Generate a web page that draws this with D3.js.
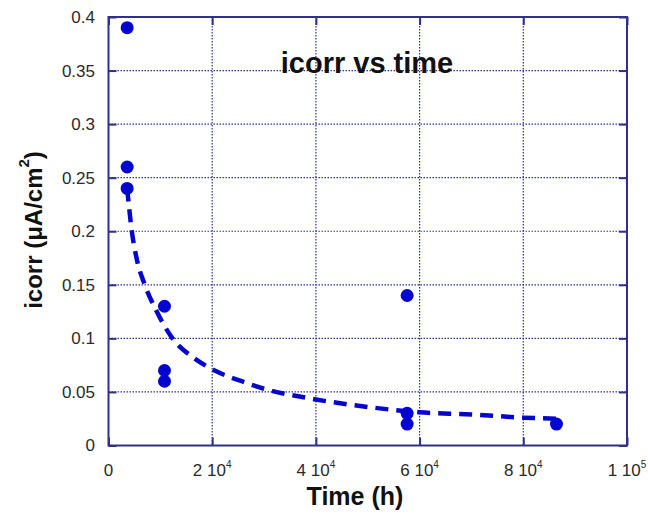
<!DOCTYPE html>
<html>
<head>
<meta charset="utf-8">
<script src="https://cdn.jsdelivr.net/npm/d3@7"></script>
<style>
  body { margin: 0; background: #fff; }
  svg { display: block; font-family: Arial, "Liberation Sans", sans-serif; }
</style>
</head>
<body>
<script>
'use strict';

// measured points
const timeX = [3600, 3600, 3600, 10800, 10800, 10800, 57600, 57600, 57600, 86400];
const icorr = [0.39, 0.26, 0.24, 0.13, 0.07, 0.06, 0.14, 0.03, 0.02, 0.02];

// fitted curve
const fitX = [3600, 4500, 5500, 7000, 9000, 12500, 16400, 20900, 25700, 30000, 40000, 50000, 60000, 70000, 80000, 86400];
const fitY = [0.24, 0.20, 0.173, 0.15, 0.128, 0.099, 0.082, 0.069, 0.06, 0.053, 0.043, 0.036, 0.031, 0.029, 0.026, 0.025];

// ticks
const xTicks = [0, 20000, 40000, 60000, 80000, 100000];
const xTickMant = ["0", "2 10", "4 10", "6 10", "8 10", "1 10"];
const xTickExp = ["", "4", "4", "4", "4", "5"];
const yTicks = [0, 0.05, 0.1, 0.15, 0.2, 0.25, 0.3, 0.35, 0.4];
const yTickLabels = ["0", "0.05", "0.1", "0.15", "0.2", "0.25", "0.3", "0.35", "0.4"];

(function() {
  const W = 648, H = 515;
  const pLeft = 108.5, pRight = 627, pTop = 17, pBottom = 445.5;
  const navy = "#30308c";
  const blue = "#0505d0";

  const svg = d3.select('body').append('svg')
    .attr('width', W)
    .attr('height', H);

  const x = d3.scaleLinear().domain([0, 100000]).range([pLeft, pRight]);
  const y = d3.scaleLinear().domain([0, 0.4]).range([pBottom, pTop]);

  // grid lines
  svg.append('g').selectAll('line')
    .data(xTicks.slice(1, -1))
    .enter().append('line')
    .attr('x1', d => x(d)).attr('x2', d => x(d))
    .attr('y1', pTop).attr('y2', pBottom)
    .attr('stroke', navy).attr('stroke-width', 1.2)
    .attr('stroke-dasharray', '1.5,1.5');

  svg.append('g').selectAll('line')
    .data(yTicks.slice(1, -1))
    .enter().append('line')
    .attr('y1', d => y(d)).attr('y2', d => y(d))
    .attr('x1', pLeft).attr('x2', pRight)
    .attr('stroke', navy).attr('stroke-width', 1.2)
    .attr('stroke-dasharray', '1.5,1.5');

  // axes with inward ticks on all four sides
  function styleAxis(g) {
    g.select('.domain').remove();
    g.selectAll('.tick line').attr('stroke', navy).attr('stroke-width', 2);
  }

  svg.append('g')
    .attr('transform', `translate(0,${pBottom})`)
    .call(d3.axisBottom(x).tickValues(xTicks).tickSizeInner(-8).tickSizeOuter(0).tickFormat(''))
    .call(styleAxis);
  svg.append('g')
    .attr('transform', `translate(0,${pTop})`)
    .call(d3.axisTop(x).tickValues(xTicks).tickSizeInner(-8).tickSizeOuter(0).tickFormat(''))
    .call(styleAxis);
  svg.append('g')
    .attr('transform', `translate(${pLeft},0)`)
    .call(d3.axisLeft(y).tickValues(yTicks).tickSizeInner(-8).tickSizeOuter(0).tickFormat(''))
    .call(styleAxis);
  svg.append('g')
    .attr('transform', `translate(${pRight},0)`)
    .call(d3.axisRight(y).tickValues(yTicks).tickSizeInner(-8).tickSizeOuter(0).tickFormat(''))
    .call(styleAxis);

  // frame
  svg.append('rect')
    .attr('x', pLeft).attr('y', pTop)
    .attr('width', pRight - pLeft).attr('height', pBottom - pTop)
    .attr('fill', 'none').attr('stroke', navy).attr('stroke-width', 2);

  // tick labels
  svg.append('g').selectAll('text')
    .data(yTicks)
    .enter().append('text')
    .attr('x', 95)
    .attr('y', d => y(d))
    .attr('dy', '0.35em')
    .attr('text-anchor', 'end')
    .style('font-size', '17px')
    .style('fill', '#2a2a2a')
    .text((d, i) => yTickLabels[i]);

  const xl = svg.append('g').selectAll('text')
    .data(xTicks)
    .enter().append('text')
    .attr('x', d => x(d))
    .attr('y', 476)
    .attr('text-anchor', 'middle')
    .style('font-size', '17px')
    .style('fill', '#2a2a2a');
  xl.append('tspan').text((d, i) => xTickMant[i]);
  xl.append('tspan')
    .attr('dy', -8)
    .style('font-size', '10px')
    .text((d, i) => xTickExp[i]);

  // fit curve
  const line = d3.line()
    .x((d, i) => x(fitX[i]))
    .y((d, i) => y(fitY[i]))
    .curve(d3.curveMonotoneX);

  svg.append('path')
    .datum(fitX)
    .attr('d', line)
    .attr('fill', 'none')
    .attr('stroke', blue)
    .attr('stroke-width', 4.5)
    .attr('stroke-dasharray', '13,8');

  // points
  svg.append('g').selectAll('circle')
    .data(timeX)
    .enter().append('circle')
    .attr('cx', d => x(d))
    .attr('cy', (d, i) => y(icorr[i]))
    .attr('r', 6.5)
    .attr('fill', blue);

  // title and axis labels
  svg.append('text')
    .attr('x', 367)
    .attr('y', 73)
    .attr('text-anchor', 'middle')
    .style('font-size', '29px')
    .style('font-weight', 'bold')
    .style('fill', '#111')
    .text('icorr vs time');

  svg.append('text')
    .attr('x', 355)
    .attr('y', 505)
    .attr('text-anchor', 'middle')
    .style('font-size', '25px')
    .style('font-weight', 'bold')
    .style('fill', '#111')
    .text('Time (h)');

  const yt = svg.append('text')
    .attr('transform', 'translate(42,230)rotate(-90)')
    .attr('text-anchor', 'middle')
    .style('font-size', '24px')
    .style('font-weight', 'bold')
    .style('fill', '#111');
  yt.append('tspan').text('icorr (\u03bcA/cm');
  yt.append('tspan').attr('dy', -13).style('font-size', '15px').text('2');
  yt.append('tspan').attr('dy', 13).text(')');
})();
</script>
</body>
</html>
